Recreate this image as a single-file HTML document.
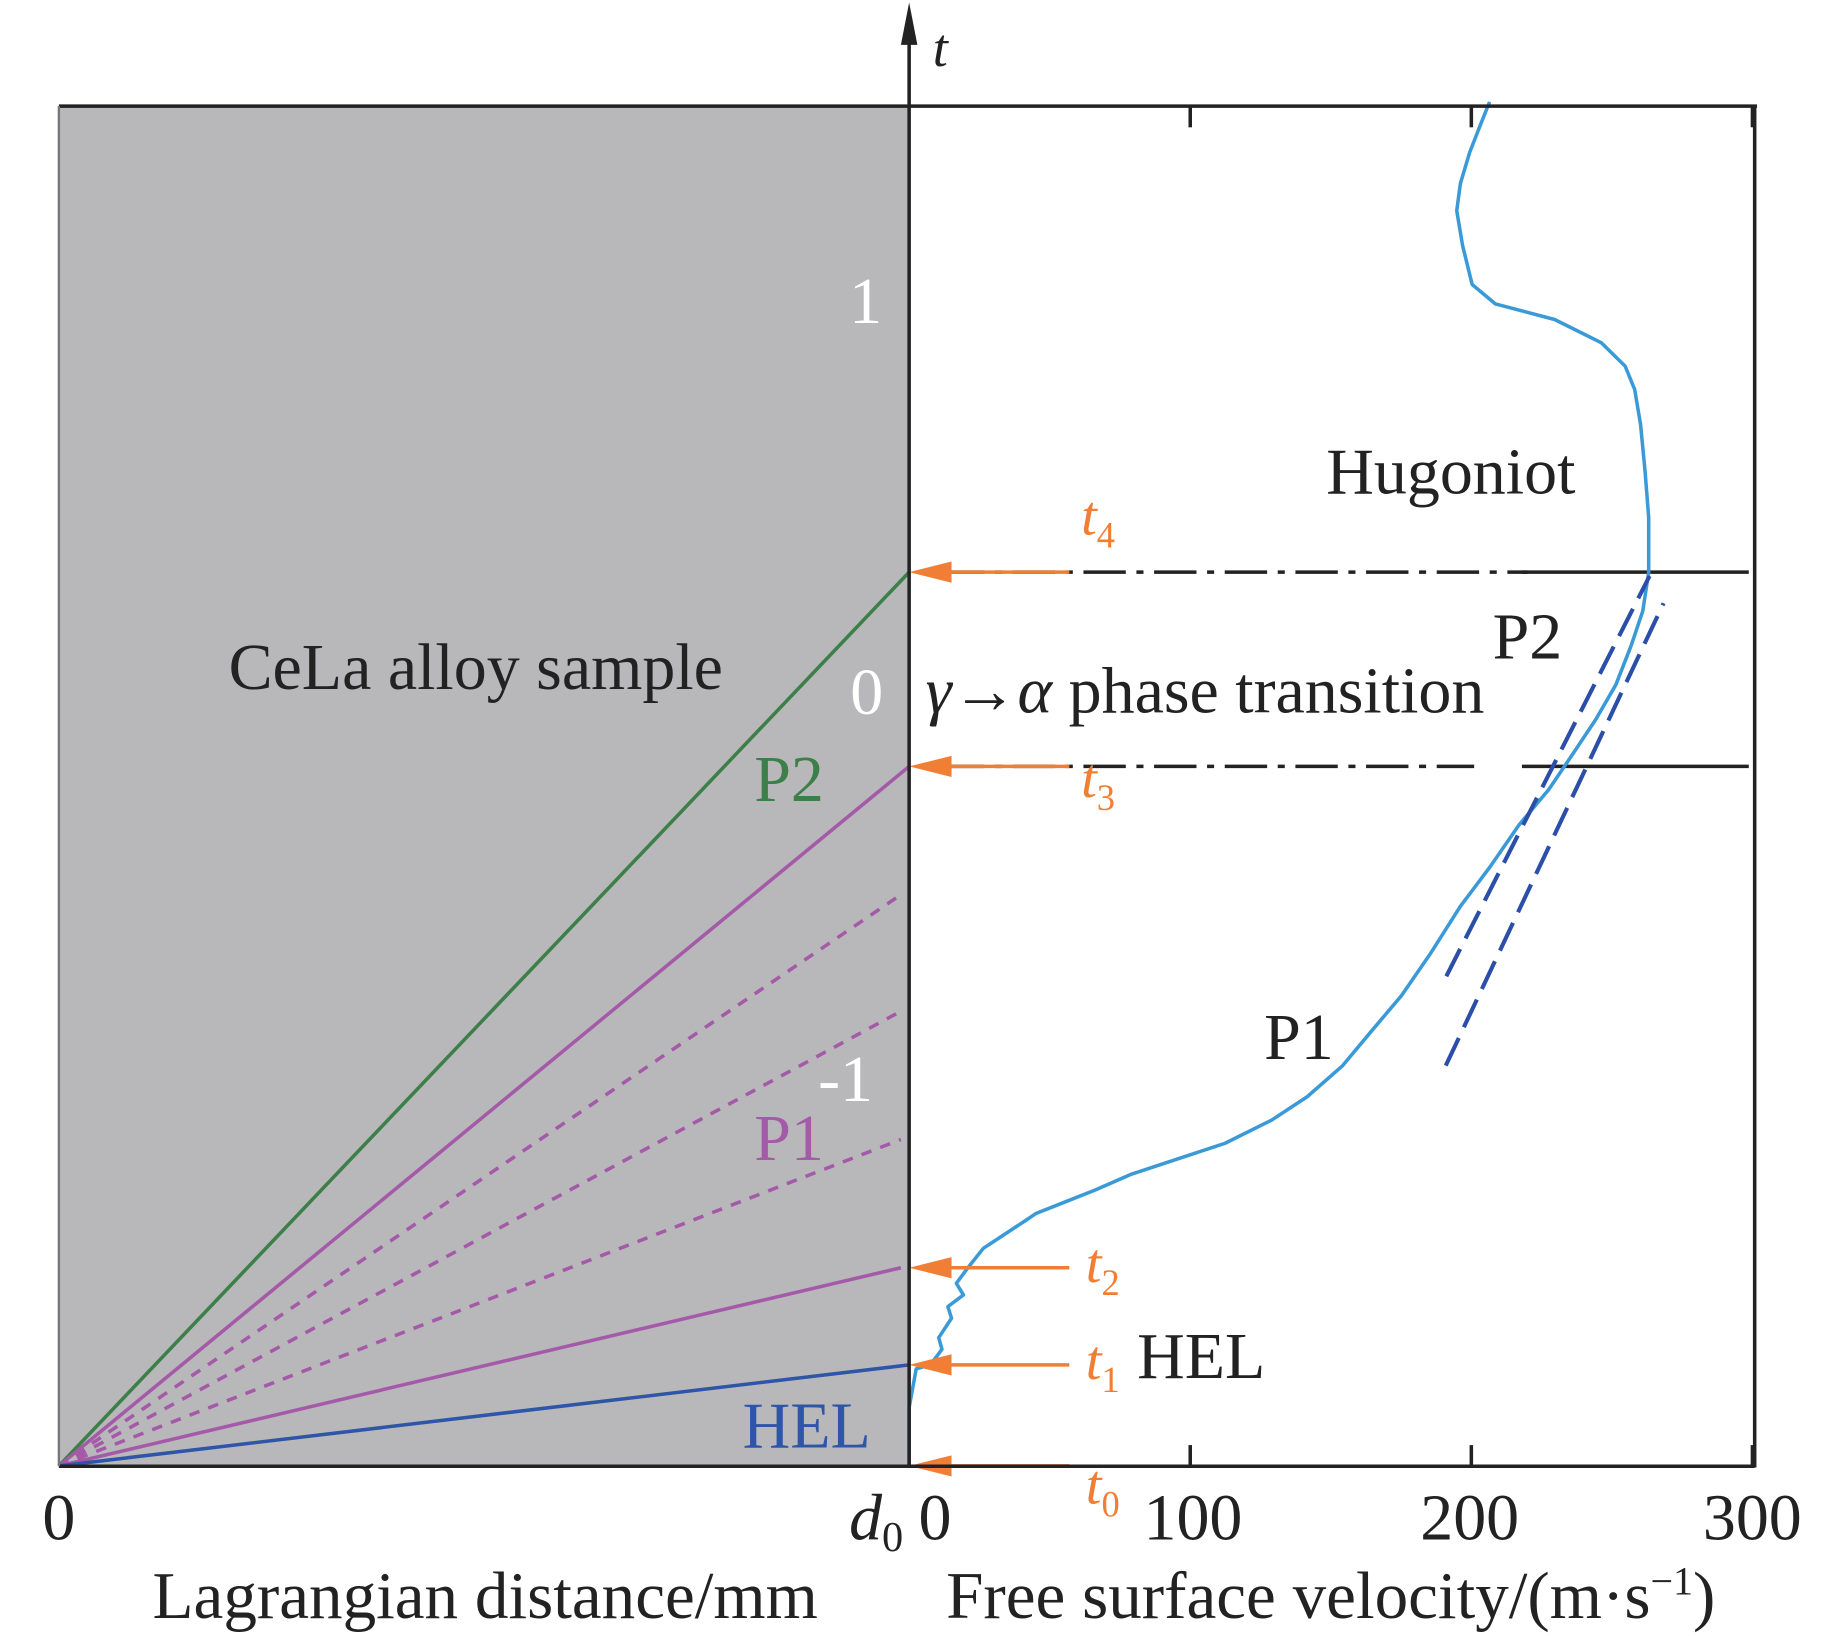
<!DOCTYPE html>
<html><head><meta charset="utf-8"><style>
html,body{margin:0;padding:0;background:#fff}
svg{display:block}
text{font-family:"Liberation Serif",serif}
</style></head><body>
<svg id="chart" width="1843" height="1636" viewBox="0 0 1565 1389" xmlns="http://www.w3.org/2000/svg">
<rect x="50" y="90" width="722" height="1155" fill="#b8b8ba"/>
<g id="marks"></g>
<g id="frame" stroke="#222" stroke-width="3" fill="none">
<line x1="50" y1="90" x2="1492" y2="90"/>
<line x1="1490" y1="90" x2="1490" y2="1246"/>
<line x1="50" y1="1245" x2="1490" y2="1245"/>
<line x1="50" y1="90" x2="50" y2="1245" stroke="#777" stroke-width="2"/>
<line x1="772" y1="20" x2="772" y2="1245"/>
</g>
<polygon points="772,2 765,38 779,38" fill="#222"/>
<text x="792" y="56" font-size="46" font-style="italic" fill="#222">t</text>
<g id="labels" font-size="56" fill="#222" text-anchor="middle">
<text x="50" y="1307">0</text>
<text x="744" y="1307" font-style="italic">d<tspan font-size="36" dy="10" font-style="normal">0</tspan></text>
<text x="794" y="1307">0</text>
<text x="1013" y="1307">100</text>
<text x="1248" y="1307">200</text>
<text x="1488" y="1307">300</text>
<text x="412" y="1374" font-size="57">Lagrangian distance/mm</text>
<text x="1130" y="1374" font-size="57">Free surface velocity/(m·s<tspan font-size="34" dy="-20">−1</tspan><tspan dy="20">)</tspan></text>
<text x="735" y="274" fill="#fff">1</text>
<text x="736" y="606" fill="#fff">0</text>
<text x="718" y="935" fill="#fff">-1</text>
<text x="404" y="585">CeLa alloy sample</text>
<text x="786" y="605" text-anchor="start"><tspan font-style="italic">γ</tspan>→<tspan font-style="italic">α</tspan> phase transition</text>
<text x="1232" y="419">Hugoniot</text>
<text x="1297" y="559">P2</text>
<text x="1103" y="899">P1</text>
<text x="1020" y="1170">HEL</text>
<text x="670" y="680" fill="#3d7f48">P2</text>
<text x="670" y="985" fill="#a45aa8">P1</text>
<text x="685" y="1229" fill="#2e55a8">HEL</text>
</g>
<g id="tlabels" font-size="48" fill="#f07f35" font-style="italic"></g>
</svg>
<script>
// axis mapping
const T0Y = 588, TPX = 330;         // t=0 at y 588, 330 px per unit
const V0X = 772, VPX = 2.387;       // velocity px per m/s
const DX0 = 50, DX1 = 772;          // Lagrangian 0 .. d0
const tY = t => T0Y - t * TPX;
const vX = v => V0X + v * VPX;

// data
const velocity = [0,0,2.5,7.5,11.7,10.5,15.1,13.8,19.3,16.8,20.9,26.4,32.7,41.1,45.2,55.7,66.2,78.8,95.5,112.3,129,141.6,154.2,164.6,175.1,185.6,196.1,206.5,217,227.5,235.9,244.2,251.4,256.8,261,263.1,263.1,261.8,260.2,258.1,254.7,246.3,229.6,208.6,200.3,196.9,194.8,196.1,199.4,203.2,206.5];
const time = [-1.99,-1.84,-1.74,-1.73,-1.69,-1.66,-1.61,-1.58,-1.55,-1.52,-1.48,-1.43,-1.4,-1.36,-1.34,-1.31,-1.28,-1.24,-1.2,-1.16,-1.1,-1.04,-0.96,-0.87,-0.78,-0.67,-0.55,-0.45,-0.34,-0.25,-0.16,-0.07,0.02,0.12,0.21,0.31,0.45,0.57,0.69,0.78,0.84,0.9,0.96,1.0,1.05,1.15,1.24,1.31,1.39,1.46,1.52];
const originT = -1.99;
const waveArrivals = [0.31,-0.19,-0.52,-0.82,-1.15,-1.48,-1.73];
const waveNames = ['p2-green','p2-purple','p1-dashed-a','p1-dashed-b','p1-dashed-c','p1-purple','hel-blue'];
const fitLineA_v = [190.9,268.4]; const fitLineA_t = [-0.96,0.23];
const fitLineB_v = [191.1,263.4]; const fitLineB_t = [-0.73,0.30];
const arrowTimes = [0.31,-0.19,-1.48,-1.73,-1.99];
const arrowLabels = ['4','3','2','1','0'];
const transitionTimes = [0.31,-0.19];
const transitionDashEnd = [220,201];

const NS = 'http://www.w3.org/2000/svg';
const marks = document.getElementById('marks');
function mk(tag, attrs, parent){ const e=document.createElementNS(NS,tag); for(const k in attrs) e.setAttribute(k,attrs[k]); (parent||marks).appendChild(e); return e; }

const waveColors = ['#3d7f48','#a45aa8','#a45aa8','#a45aa8','#a45aa8','#a45aa8','#2e55a8'];
waveArrivals.forEach((t,i)=>{
  const dashed = i>=2 && i<=4;
  const l = mk('line',{x1:DX0,y1:tY(originT),x2:dashed||i==5?DX1-7:DX1,y2:tY(t),stroke:waveColors[i],'stroke-width':3});
  if(dashed) l.setAttribute('stroke-dasharray','9 8');
  
  
});

transitionTimes.forEach((t,i)=>{
  const d = mk('line',{x1:800,y1:tY(t),x2:vX(transitionDashEnd[i]),y2:tY(t),stroke:'#222','stroke-width':3,'stroke-dasharray':'36 9 6 9'});
  
  
  const s = mk('line',{x1:vX(218),y1:tY(t),x2:1485,y2:tY(t),stroke:'#222','stroke-width':3});
  
  
});

const pts = velocity.map((v,i)=>vX(v).toFixed(1)+','+tY(time[i]).toFixed(1)).join(' ');
const curve = mk('polyline',{points:pts,fill:'none',stroke:'#3a9ad8','stroke-width':3,'stroke-linejoin':'round'});



[[fitLineA_v,fitLineA_t],[fitLineB_v,fitLineB_t]].forEach(([vs,ts],i)=>{
  const l = mk('line',{x1:vX(vs[0]),y1:tY(ts[0]),x2:vX(vs[1]),y2:tY(ts[1]),stroke:'#2b4fa8','stroke-width':3.5,'stroke-dasharray':'26 10'});
  
  
});

[100,200,300].forEach(v=>{
  const a = mk('line',{x1:vX(v),y1:90,x2:vX(v),y2:108,stroke:'#222','stroke-width':3});
  
  
  const b = mk('line',{x1:vX(v),y1:1245,x2:vX(v),y2:1227,stroke:'#222','stroke-width':3});
  
  
});

const tl = document.getElementById('tlabels');
arrowTimes.forEach((t,i)=>{
  const y = tY(t);
  const g = mk('g',{});
  
  
  mk('line',{x1:800,y1:y,x2:908,y2:y,stroke:'#f07f35','stroke-width':3},g);
  mk('polygon',{points:`772,${y} 808,${y-9} 808,${y+9}`,fill:'#f07f35'},g);
  const ly = i==0 ? y-32 : (i==1 ? y+26 : (i==4 ? y+32 : y+12));
  const tx = mk('text',{x:i<2?918:922,y:ly},tl);
  tx.innerHTML = 't<tspan font-size="31" dy="11" font-style="normal">'+arrowLabels[i]+'</tspan>';
  
  
});
</script>
</body></html>
